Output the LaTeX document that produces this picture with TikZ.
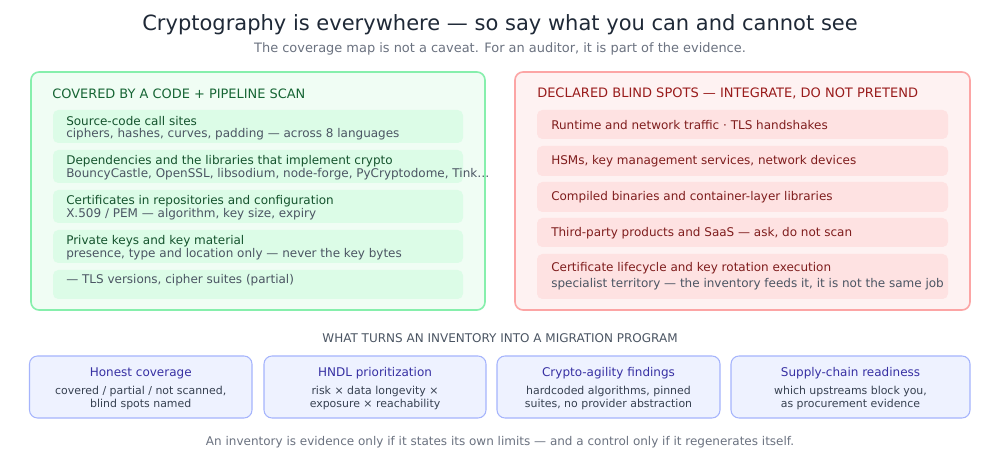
\documentclass[tikz,border=0pt]{standalone}
\usepackage{fontspec}
\setmainfont{DejaVu Sans}
\definecolor{ttl}{HTML}{1F2937}
\definecolor{sub}{HTML}{6B7280}
\definecolor{gfill}{HTML}{F0FDF4}
\definecolor{gstroke}{HTML}{86EFAC}
\definecolor{gitem}{HTML}{DCFCE7}
\definecolor{ghead}{HTML}{166534}
\definecolor{gtext}{HTML}{14532D}
\definecolor{rfill}{HTML}{FEF2F2}
\definecolor{rstroke}{HTML}{FCA5A5}
\definecolor{ritem}{HTML}{FEE2E2}
\definecolor{rhead}{HTML}{991B1B}
\definecolor{rtext}{HTML}{7F1D1D}
\definecolor{detail}{HTML}{4B5563}
\definecolor{bfill}{HTML}{EEF2FF}
\definecolor{bstroke}{HTML}{A5B4FC}
\definecolor{bhead}{HTML}{3730A3}
\definecolor{btext}{HTML}{374151}
\tikzset{
  panelg/.style={draw=gstroke, fill=gfill, line width=1.2pt, rounded corners=6pt},
  panelr/.style={draw=rstroke, fill=rfill, line width=1.2pt, rounded corners=6pt},
  itemg/.style={fill=gitem, rounded corners=4pt},
  itemr/.style={fill=ritem, rounded corners=4pt},
  card/.style={draw=bstroke, fill=bfill, line width=0.8pt, rounded corners=6pt},
  lbl/.style={anchor=west, inner sep=0pt},
  gt/.style={lbl, text=gtext, font=\fontsize{9}{11}\selectfont},
  gd/.style={lbl, text=detail, font=\fontsize{9}{11}\selectfont},
  rt/.style={lbl, text=rtext, font=\fontsize{9}{11}\selectfont},
  ct/.style={inner sep=0pt, text=bhead, font=\fontsize{9}{11}\selectfont},
  cd/.style={inner sep=0pt, text=btext, align=center, font=\fontsize{8.2}{9.8}\selectfont},
}
\begin{document}
\begin{tikzpicture}[x=0.75pt,y=-0.75pt]
\useasboundingbox (0,0) rectangle (1000,470);
\fill[white] (0,0) rectangle (1000,470);
\node[text=ttl, inner sep=0pt, font=\fontsize{15.75}{18}\selectfont] (title) at (500,24.5) {Cryptography is everywhere — so say what you can and cannot see};
\node[text=sub, inner sep=0pt, font=\fontsize{9.7}{11}\selectfont] (subtitle) at (500,49) {The coverage map is not a caveat. For an auditor, it is part of the evidence.};
% left panel
\draw[panelg] (31,72) rectangle (485,310);
\node[lbl, text=ghead, font=\fontsize{9.7}{11}\selectfont] (lh) at (52,93.5) {COVERED BY A CODE + PIPELINE SCAN};
\fill[itemg] (53,110) rectangle (463,143);
\fill[itemg] (53,150) rectangle (463,183);
\fill[itemg] (53,190) rectangle (463,223);
\fill[itemg] (53,230) rectangle (463,263);
\fill[itemg] (53,270) rectangle (463,299);
\node[gt] (l1a) at (66,121) {Source-code call sites};
\node[gd] (l1b) at (66,134) {ciphers, hashes, curves, padding — across 8 languages};
\node[gt] (l2a) at (66,161) {Dependencies and the libraries that implement crypto};
\node[gd] (l2b) at (66,174) {BouncyCastle, OpenSSL, libsodium, node-forge, PyCryptodome, Tink…};
\node[gt] (l3a) at (66,201) {Certificates in repositories and configuration};
\node[gd] (l3b) at (66,214) {X.509 / PEM — algorithm, key size, expiry};
\node[gt] (l4a) at (66,241) {Private keys and key material};
\node[gd] (l4b) at (66,254) {presence, type and location only — never the key bytes};
\node[gd] (l5) at (66,280) {— TLS versions, cipher suites (partial)};
% right panel
\draw[panelr] (515,72) rectangle (970,310);
\node[lbl, text=rhead, font=\fontsize{9.75}{11}\selectfont] (rh) at (537,93.5) {DECLARED BLIND SPOTS — INTEGRATE, DO NOT PRETEND};
\fill[itemr] (537,110) rectangle (948,139);
\fill[itemr] (537,146) rectangle (948,176);
\fill[itemr] (537,182) rectangle (948,212);
\fill[itemr] (537,218) rectangle (948,247);
\fill[itemr] (537,254) rectangle (948,299);
\node[rt] (r1) at (551,125) {Runtime and network traffic · TLS handshakes};
\node[rt] (r2) at (551,161) {HSMs, key management services, network devices};
\node[rt] (r3) at (551,197) {Compiled binaries and container-layer libraries};
\node[rt] (r4) at (551,233) {Third-party products and SaaS — ask, do not scan};
\node[rt] (r5a) at (551,268) {Certificate lifecycle and key rotation execution};
\node[gd] (r5b) at (551,284) {specialist territory — the inventory feeds it, it is not the same job};
% middle heading
\node[text=detail, inner sep=0pt, font=\fontsize{9}{10}\selectfont] (mid) at (500,338) {WHAT TURNS AN INVENTORY INTO A MIGRATION PROGRAM};
% cards
\draw[card] (29.5,356) rectangle (252,418);
\draw[card] (264,356) rectangle (486,418);
\draw[card] (497,356) rectangle (720,418);
\draw[card] (731,356) rectangle (970,418);
\node[ct] (c1) at (140.75,373.5) {Honest coverage};
\node[cd] (c1d) at (140.75,398) {covered / partial / not scanned,\\blind spots named};
\node[ct] (c2) at (375,373.5) {HNDL prioritization};
\node[cd] (c2d) at (375,398) {risk × data longevity ×\\exposure × reachability};
\node[ct] (c3) at (608.5,373.5) {Crypto-agility findings};
\node[cd] (c3d) at (608.5,398) {hardcoded algorithms, pinned\\suites, no provider abstraction};
\node[ct] (c4) at (850.5,373.5) {Supply-chain readiness};
\node[cd] (c4d) at (850.5,398) {which upstreams block you,\\as procurement evidence};
% footer
\node[text=sub, inner sep=0pt, font=\fontsize{9}{11}\selectfont] (foot) at (500,442) {An inventory is evidence only if it states its own limits — and a control only if it regenerates itself.};
\end{tikzpicture}
\end{document}
